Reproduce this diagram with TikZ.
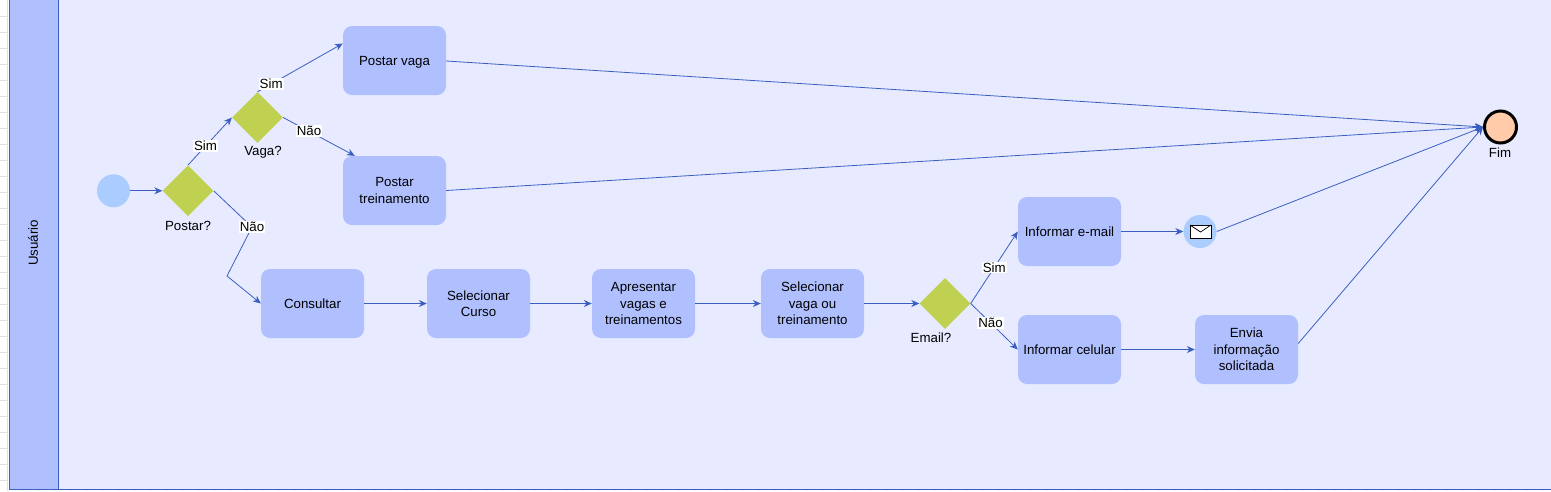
\documentclass[tikz,border=0pt]{standalone}
\usepackage{fontspec}
\setmainfont{Liberation Sans}
\usetikzlibrary{shapes.geometric,arrows.meta}
\definecolor{lanefill}{HTML}{E8EBFF}
\definecolor{headfill}{HTML}{B0C0FF}
\definecolor{flowblue}{HTML}{3A5FC0}
\definecolor{gateway}{HTML}{C0D050}
\definecolor{eventfill}{HTML}{AACCFF}
\definecolor{endfill}{HTML}{FFCBA8}
\definecolor{sheetgrid}{HTML}{E0E0E0}
\tikzset{
  txt/.style={font=\fontsize{13.3}{16.5}\selectfont,text=black,align=center},
  taskbox/.style={txt,rectangle,rounded corners=9pt,fill=headfill,minimum width=103pt,minimum height=69pt,inner sep=0pt},
  gate/.style={diamond,fill=gateway,minimum width=51pt,minimum height=51pt,inner sep=0pt},
  evt/.style={circle,fill=eventfill,minimum size=33pt,inner sep=0pt},
  flow/.style={draw=flowblue,line width=0.8pt,-{Stealth[length=8pt,width=7pt]}},
  lab/.style={txt,fill=white,inner sep=1pt},
  captext/.style={txt,inner sep=0pt,text depth=0pt},
}
\begin{document}
\begin{tikzpicture}[x=1pt,y=-1pt]
\useasboundingbox (0,0) rectangle (1551,491);
\fill[white] (0,0) rectangle (1551,491);
% sheet grid behind the lane
\foreach \yy in {16,32,...,480} \draw[sheetgrid,line width=0.8pt] (0,\yy) -- (7,\yy);
\draw[sheetgrid,line width=1pt] (7,0) -- (7,491);
\foreach \xx in {22,38,...,1550} \draw[sheetgrid,line width=0.8pt] (\xx,489) -- (\xx,491);
% lane
\draw[flowblue,line width=1pt,fill=lanefill] (9.5,-2) rectangle (1553,489.5);
\draw[flowblue,line width=1pt,fill=headfill] (9.5,-2) rectangle (58.5,489.5);
\node[txt,rotate=90] (lane) at (33,243) {Usuário};
% nodes
\node[evt] (start) at (113.5,190.8) {};
\node[gate] (postar) at (188,190.8) {};
\node[captext] (postarcap) at (188,226) {Postar?};
\node[gate] (vaga) at (257.5,117.5) {};
\node[captext] (vagacap) at (263,151) {Vaga?};
\node[taskbox,text depth=0pt] (pvaga) at (394.5,60.5) {Postar vaga};
\node[taskbox] (ptrein) at (394.5,190.5) {Postar\\treinamento};
\node[taskbox] (consultar) at (312.5,303.5) {Consultar};
\node[taskbox] (curso) at (478.5,303.5) {Selecionar\\Curso};
\node[taskbox] (apres) at (643.5,303.5) {Apresentar\\vagas e\\treinamentos};
\node[taskbox] (selvaga) at (812.5,303.5) {Selecionar\\vaga ou\\treinamento};
\node[gate] (email) at (945,303.5) {};
\node[captext] (emailcap) at (931,338) {Email?};
\node[taskbox] (infmail) at (1069.5,231.5) {Informar e-mail};
\node[taskbox] (infcel) at (1069.5,349.5) {Informar celular};
\node[taskbox] (envia) at (1246.5,349.5) {Envia\\informação\\solicitada};
\node[evt] (msg) at (1200,231.5) {};
\node[circle,draw=black,line width=3pt,fill=endfill,minimum size=32pt,inner sep=0pt] (fim) at (1500.5,127) {};
\node[captext] (fimcap) at (1500,153) {Fim};
\coordinate (bendA) at (252,227);
\coordinate (bendB) at (227,276);
% envelope
\draw[black,line width=0.8pt,fill=white] (1190,225) rectangle (1211,238);
\draw[black,line width=0.7pt] (1190,225) -- (1200.5,232) -- (1211,225);
% connectors
\draw[flow] (start.east) -- (postar.west);
\draw[flow] (postar.north) -- node[lab,pos=0.4] (l1) {Sim} (vaga.west);
\draw[flow] (vaga.north) -- node[lab,pos=0.16] (l2) {Sim} ([yshift=17pt]pvaga.west);
\draw[flow] (vaga.east) -- node[lab,pos=0.36] (l3) {Não} ([xshift=12pt]ptrein.north west);
\draw[flow,line join=miter] (postar.east) -- (bendA) -- (bendB) -- (consultar.west);
\node[lab] (l4) at (bendA) {Não};
\draw[flow] (consultar.east) -- (curso.west);
\draw[flow] (curso.east) -- (apres.west);
\draw[flow] (apres.east) -- (selvaga.west);
\draw[flow] (selvaga.east) -- (email.west);
\draw[flow] (email.east) -- node[lab,pos=0.5] (l5) {Sim} (infmail.west);
\draw[flow] (email.east) -- node[lab,pos=0.42] (l6) {Não} (infcel.west);
\draw[flow] (infmail.east) -- (msg.west);
\draw[flow] (infcel.east) -- (envia.west);
\draw[flow] ([yshift=-0.5pt]pvaga.east) -- (fim.west);
\draw[flow] (ptrein.east) -- (fim.west);
\draw[flow] (msg.east) -- (fim.west);
\draw[flow] ([yshift=6pt]envia.east) -- (fim.west);
\end{tikzpicture}
\end{document}
